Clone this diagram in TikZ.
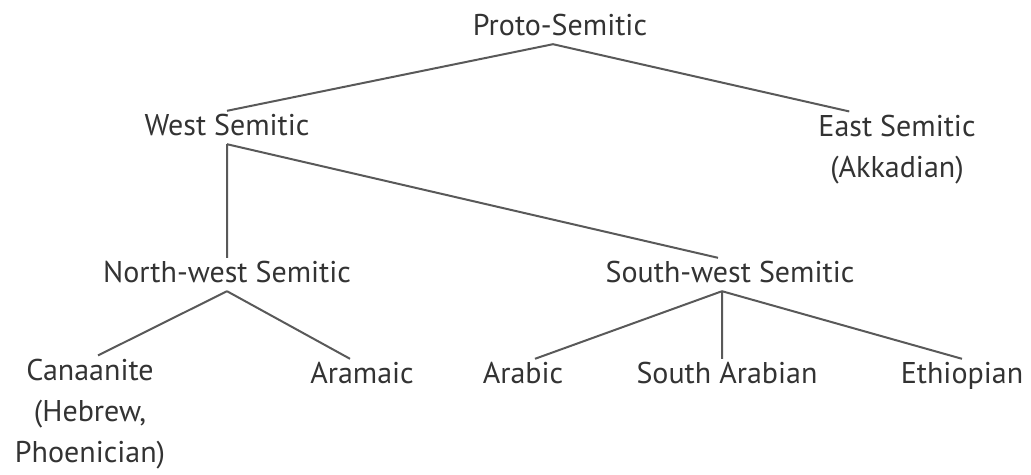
\documentclass[tikz,border=0pt]{standalone}
\usepackage{fontspec}
\setmainfont{PT Sans}

\begin{document}
\begin{tikzpicture}[x=1pt, y=-1pt,
  lang/.style={font=\fontsize{30}{41}\selectfont, text=black!80, anchor=base,
    inner xsep=2pt, inner ysep=3pt, text height=21pt, text depth=6pt},
  langs/.style={font=\fontsize{30}{41}\selectfont, text=black!80, anchor=base,
    align=center, inner xsep=2pt, inner ysep=3pt},
  branch/.style={draw=black!65, line width=2pt}]
\useasboundingbox (0,0) rectangle (1031,474);

\node[lang] (proto) at (560,35) {Proto-Semitic};
\node[lang] (west) at (227,135) {West Semitic};
\node[langs] (east) at (897,177) {East Semitic\\(Akkadian)};
\node[lang] (nw) at (227,282) {North-west Semitic};
\node[lang] (sw) at (730,282) {South-west Semitic};
\node[langs] (canaan) at (90,462) {Canaanite\\(Hebrew,\\Phoenician)};
\node[lang] (aram) at (362,383) {Aramaic};
\node[lang] (arab) at (523,383) {Arabic};
\node[lang] (sarab) at (727,383) {South Arabian};
\node[lang] (ethiop) at (962,383) {Ethiopian};

\draw[branch] ([xshift=-7pt]proto.south) -- (west.north)
      ([xshift=-7pt]proto.south) -- ([xshift=33pt]east.north west);
\draw[branch] (west.south) -- (nw.north)
      (west.south) -- ([xshift=-12pt]sw.north);
\draw[branch] (nw.south) -- ([xshift=8pt]canaan.north)
      (nw.south) -- ([xshift=-12pt]aram.north);
\draw[branch] ([xshift=-8pt]sw.south) -- ([xshift=12pt]arab.north)
      ([xshift=-8pt]sw.south) -- ([xshift=-8pt]sw.south |- sarab.north)
      ([xshift=-8pt]sw.south) -- (ethiop.north);
\end{tikzpicture}
\end{document}
